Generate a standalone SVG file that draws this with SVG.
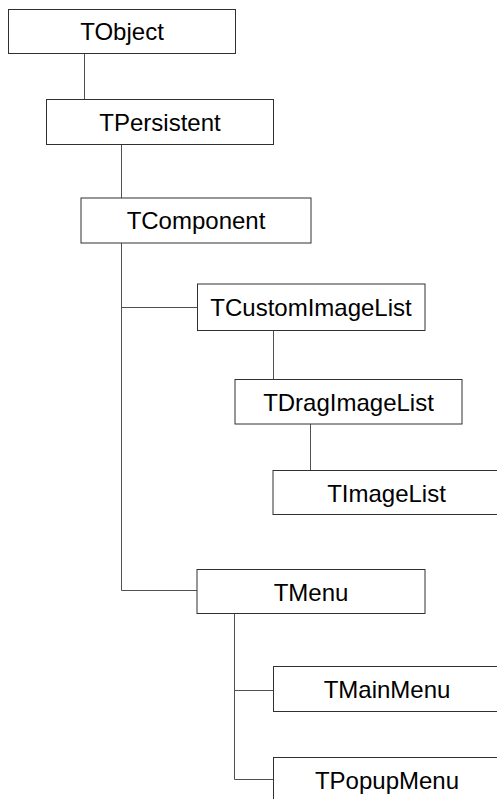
<svg xmlns="http://www.w3.org/2000/svg" width="497" height="799" viewBox="0 0 497 799">
<style>
.box{fill:#fff;stroke:#303030;stroke-width:1}
.lbl{font-family:"Liberation Sans",Arial,sans-serif;font-size:24px;fill:#000;text-anchor:middle}
.conn{fill:none;stroke:#505050;stroke-width:1}
</style>
<rect width="497" height="799" fill="#fff"/>
<g id="connectors" class="conn">
<path d="M84.5 53V99.5"/>
<path d="M121.5 145V198"/>
<path d="M121.5 243V590.5H197.5"/>
<path d="M121.5 307.5H197.5"/>
<path d="M273.5 331V379.5"/>
<path d="M310.5 424V470.5"/>
<path d="M234.5 613V779.5H273.5"/>
<path d="M234.5 690.5H273.5"/>
</g>
<g id="TObject"><rect class="box" x="8.5" y="9.5" width="227" height="44"/><text class="lbl" x="122" y="40">TObject</text></g>
<g id="TPersistent"><rect class="box" x="46.5" y="99.5" width="227" height="45"/><text class="lbl" x="160" y="130.5">TPersistent</text></g>
<g id="TComponent"><rect class="box" x="81" y="198" width="230" height="45"/><text class="lbl" x="196" y="229">TComponent</text></g>
<g id="TCustomImageList"><rect class="box" x="197.5" y="284" width="227.5" height="46.5"/><text class="lbl" x="311" y="315.5">TCustomImageList</text></g>
<g id="TDragImageList"><rect class="box" x="235" y="379.5" width="227" height="44.5"/><text class="lbl" x="348.5" y="410.5">TDragImageList</text></g>
<g id="TImageList"><rect class="box" x="273" y="470.5" width="227" height="44"/><text class="lbl" x="386.5" y="501.5">TImageList</text></g>
<g id="TMenu"><rect class="box" x="197" y="569.5" width="228" height="44"/><text class="lbl" x="311" y="600.5">TMenu</text></g>
<g id="TMainMenu"><rect class="box" x="273.5" y="666.5" width="227" height="45"/><text class="lbl" x="387" y="697.5">TMainMenu</text></g>
<g id="TPopupMenu"><rect class="box" x="273.5" y="757.5" width="227" height="45"/><text class="lbl" x="387" y="788.5">TPopupMenu</text></g>
</svg>
